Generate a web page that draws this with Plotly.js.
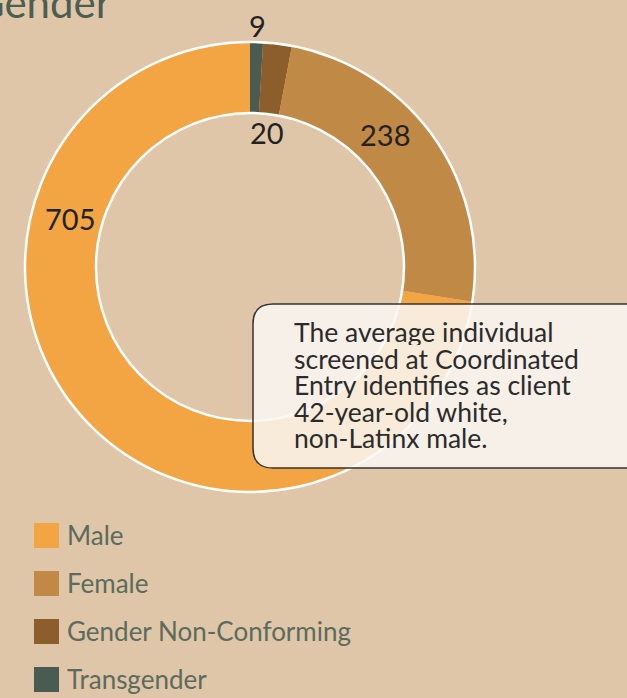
<!DOCTYPE html>
<html><head><meta charset="utf-8">
<script src="https://cdn.plot.ly/plotly-3.0.1.min.js"></script>
<style>html,body{margin:0;padding:0;background:#e0c6a8;}#chart{width:627px;height:698px;}</style>
</head><body><div id="chart"></div>
<script>
const categories = ["Male", "Female", "Gender Non-Conforming", "Transgender"];
const counts = [705, 238, 20, 9];
const sliceColors = ["#f2a542", "#c08946", "#8b5e2c", "#4a5c52"];
const chartTitle = "Gender";
const noteLines = ["The average individual", "screened at Coordinated", "Entry identifies as client", "42-year-old white,", "non-Latinx male."];

const W = 627, H = 698;
const px = v => v / W, py = v => 1 - v / H;
const cx = 250, cy = 267, R = 225, r = 154;

// label placement (pixel positions of the value labels, in category order)
const labelPos = [[70, 218], [385, 135], [267, 133], [257, 25]];

const shapes = [
  {type: 'circle', xref: 'paper', yref: 'paper', x0: px(cx - R), x1: px(cx + R), y0: py(cy + R), y1: py(cy - R), line: {color: '#ffffff', width: 2.5}, layer: 'above'},
  {type: 'circle', xref: 'paper', yref: 'paper', x0: px(cx - r), x1: px(cx + r), y0: py(cy + r), y1: py(cy - r), line: {color: '#ffffff', width: 2.5}, layer: 'above'}
];
// rounded note box
(function(){
  const x0 = 253, x1 = 660, y0 = 304, y1 = 468, rr = 20;
  const P = (x, y) => px(x) + ',' + py(y);
  const path = 'M' + P(x0 + rr, y0) + ' L' + P(x1, y0) + ' L' + P(x1, y1) + ' L' + P(x0 + rr, y1) +
    ' Q' + P(x0, y1) + ' ' + P(x0, y1 - rr) + ' L' + P(x0, y0 + rr) + ' Q' + P(x0, y0) + ' ' + P(x0 + rr, y0) + ' Z';
  shapes.push({type: 'path', xref: 'paper', yref: 'paper', path: path, fillcolor: 'rgba(250,247,243,0.86)', line: {color: '#333333', width: 1.5}, layer: 'above'});
})();

const annotations = [];
annotations.push({xref: 'paper', yref: 'paper', x: px(-28), y: py(29.5), xanchor: 'left', yanchor: 'bottom', text: chartTitle, showarrow: false, font: {family: 'Lato, sans-serif', size: 42, color: '#4b5e52'}});
noteLines.forEach((t, i) => {
  annotations.push({xref: 'paper', yref: 'paper', x: px(292), y: py(332 + i * 26.6), xanchor: 'left', yanchor: 'middle', align: 'left', valign: 'middle', height: 26, text: t, showarrow: false, font: {family: 'Lato, sans-serif', size: 26.5, color: '#2b2b2b'}});
});
counts.forEach((v, i) => {
  annotations.push({xref: 'paper', yref: 'paper', x: px(labelPos[i][0]), y: py(labelPos[i][1]), xanchor: 'center', yanchor: 'middle', text: String(v), showarrow: false, font: {family: 'Lato, sans-serif', size: 29, color: '#222222'}});
});
// legend
categories.forEach((c, i) => {
  const yc = 535.5 + i * 48;
  shapes.push({type: 'rect', xref: 'paper', yref: 'paper', x0: px(34), x1: px(59), y0: py(yc + 12.5), y1: py(yc - 12.5), fillcolor: sliceColors[i], line: {width: 0}});
  annotations.push({xref: 'paper', yref: 'paper', x: px(65), y: py(yc - 1), xanchor: 'left', yanchor: 'middle', text: c, showarrow: false, font: {family: 'Lato, sans-serif', size: 26, color: '#5b6b5c'}});
});

// slices drawn clockwise from 12 o'clock, smallest category first
const order = categories.map((_, i) => i).reverse();
const data = [{
  type: 'pie', labels: order.map(i => categories[i]), values: order.map(i => counts[i]),
  sort: false, direction: 'clockwise', rotation: 0,
  hole: r / R, marker: {colors: order.map(i => sliceColors[i]), line: {width: 0}}, textinfo: 'none', showlegend: false,
  domain: {x: [px(cx - R), px(cx + R)], y: [py(cy + R), py(cy - R)]}
}];

const layout = {
  width: W, height: H, margin: {l: 0, r: 0, t: 0, b: 0},
  paper_bgcolor: '#e0c6a8', plot_bgcolor: '#e0c6a8', showlegend: false,
  shapes: shapes, annotations: annotations
};
Plotly.newPlot('chart', data, layout, {displayModeBar: false, staticPlot: true});
</script></body></html>
